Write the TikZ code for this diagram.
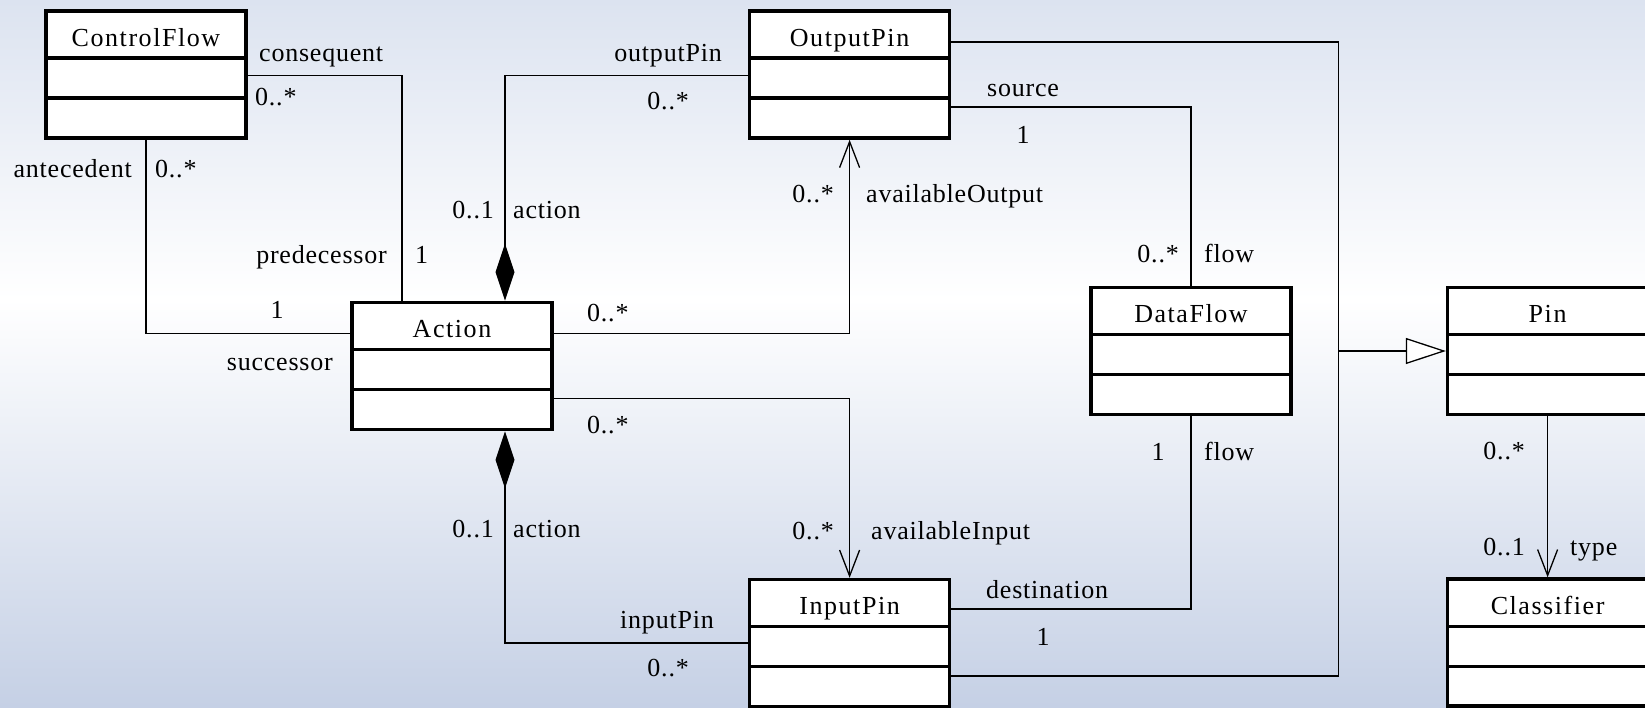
\documentclass[tikz,border=0pt]{standalone}
\usepackage{fontspec}
\setmainfont{Liberation Serif}[LetterSpace=3]
\usetikzlibrary{arrows.meta, positioning, calc}
\definecolor{bgtop}{RGB}{220,227,240}
\definecolor{bgbot}{RGB}{197,208,229}

\begin{document}
\begin{tikzpicture}[
    x=1pt, y=-1pt,
    font=\fontsize{26}{30}\selectfont,
    classbox/.style={rectangle, draw, fill=white, line width=3.6pt, minimum width=200pt, minimum height=127pt, inner sep=0pt, text height=35pt, text depth=92pt,
        font=\fontsize{26}{30}\selectfont\addfontfeatures{LetterSpace=6},
        path picture={
            \draw[line width=3.2pt] ([yshift=-47pt]path picture bounding box.north west) -- ([yshift=-47pt]path picture bounding box.north east)
                ([yshift=-87pt]path picture bounding box.north west) -- ([yshift=-87pt]path picture bounding box.north east);
        }},
    assoc/.style={line width=1.3pt},
    comp/.style={assoc, {Diamond[length=57pt, width=19pt]}-},
    nav/.style={assoc, -{Straight Barb[length=26pt, width=20pt]}},
    inherit/.style={assoc, -{Triangle[open, fill=white, length=40pt, width=26pt]}},
    role/.style={inner sep=0pt, text height=19pt, text depth=3pt},
    mult/.style={inner sep=0pt, text height=20pt, text depth=3pt},
]

% background
\useasboundingbox (0,0) rectangle (1645,707);
\shade[top color=bgtop, bottom color=white] (0,0) rectangle (1645,300);
\shade[top color=white, bottom color=bgbot] (0,299) rectangle (1645,707);

% ============ Classes ============
\node[classbox] (cf) at (146,74.5) {ControlFlow};
\node[classbox, right=500pt of cf] (op) {OutputPin};
\node[classbox] (act) at (452,366) {Action};
\node[classbox, below=438pt of op] (ip) {InputPin};
\node[classbox] (df) at (1191,351) {DataFlow};
\node[classbox, right=153pt of df] (pin) {Pin};
\node[classbox, below=161pt of pin] (cls) {Classifier};

% ============ Control flow ============
\draw[assoc] ([yshift=-1pt]cf.east) -| ([xshift=-50pt]act.north);
\draw[assoc] (cf.south) |- ([yshift=32.4pt]act.west);

\node[role, anchor=west] (conseq) at (259,53.5) {consequent};
\node[mult, anchor=west] (conseqm) at (255,96.5) {0..*};
\node[role, anchor=east] (antec) at (132,169) {antecedent};
\node[mult, anchor=west] (antecm) at (155,169) {0..*};
\node[role, anchor=east] (pred) at (387,255) {predecessor};
\node[mult, anchor=west] (predm) at (415,255) {1};
\node[mult] (succm) at (277,310) {1};
\node[role, anchor=east] (succ) at (333,362) {successor};

% ============ Pins of an action ============
\draw[comp] ([xshift=53pt]act.north) |- ([yshift=-1pt]op.west);
\draw[comp] ([xshift=53pt]act.south) |- (ip.west);
\draw[nav] ([yshift=32.4pt]act.east) -| (op.south);
\draw[nav] ([yshift=-32.6pt]act.east) -| (ip.north);

\node[role, anchor=east] (outpin) at (722,53.5) {outputPin};
\node[mult, anchor=east] (outpinm) at (689,101) {0..*};
\node[mult, anchor=east] (act1m) at (494,210) {0..1};
\node[role, anchor=west] (act1) at (513,210) {action};
\node[mult, anchor=east] (availom) at (834,194) {0..*};
\node[role, anchor=west] (availo) at (866,194) {availableOutput};
\node[mult, anchor=west] (availom2) at (587,313) {0..*};

\node[mult, anchor=west] (availim2) at (587,425) {0..*};
\node[mult, anchor=east] (act2m) at (494,529) {0..1};
\node[role, anchor=west] (act2) at (513,529) {action};
\node[mult, anchor=east] (availim) at (834,531) {0..*};
\node[role, anchor=west] (availi) at (871,531) {availableInput};
\node[role, anchor=east] (inpin) at (714,620) {inputPin};
\node[mult, anchor=east] (inpinm) at (689,668) {0..*};

% ============ Data flow ============
\draw[assoc] ([yshift=-32.5pt]op.east) -| (df.north);
\draw[assoc] ([yshift=34pt]ip.east) -| (df.south);

\node[role, anchor=west] (src) at (987,88) {source};
\node[mult] (srcm) at (1023,135) {1};
\node[mult, anchor=east] (flow1m) at (1179,254) {0..*};
\node[role, anchor=west] (flow1) at (1204,254) {flow};
\node[mult] (flow2m) at (1158,452) {1};
\node[role, anchor=west] (flow2) at (1204,452) {flow};
\node[role, anchor=west] (dest) at (986,590) {destination};
\node[mult] (destm) at (1043,637) {1};

% ============ Generalization and type ============
\coordinate (gen) at ([xshift=-107pt]pin.west);
\draw[assoc] ([yshift=32.5pt]op.east) -| (gen);
\draw[assoc] ([yshift=-33pt]ip.east) -| (gen);
\draw[inherit] (gen) -- (pin.west);

\draw[nav] (pin.south) -- (cls.north);
\node[mult, anchor=east] (typem1) at (1525,451) {0..*};
\node[mult, anchor=east] (typem2) at (1525,547) {0..1};
\node[role, anchor=west] (typ) at (1570,547) {type};

\end{tikzpicture}
\end{document}
